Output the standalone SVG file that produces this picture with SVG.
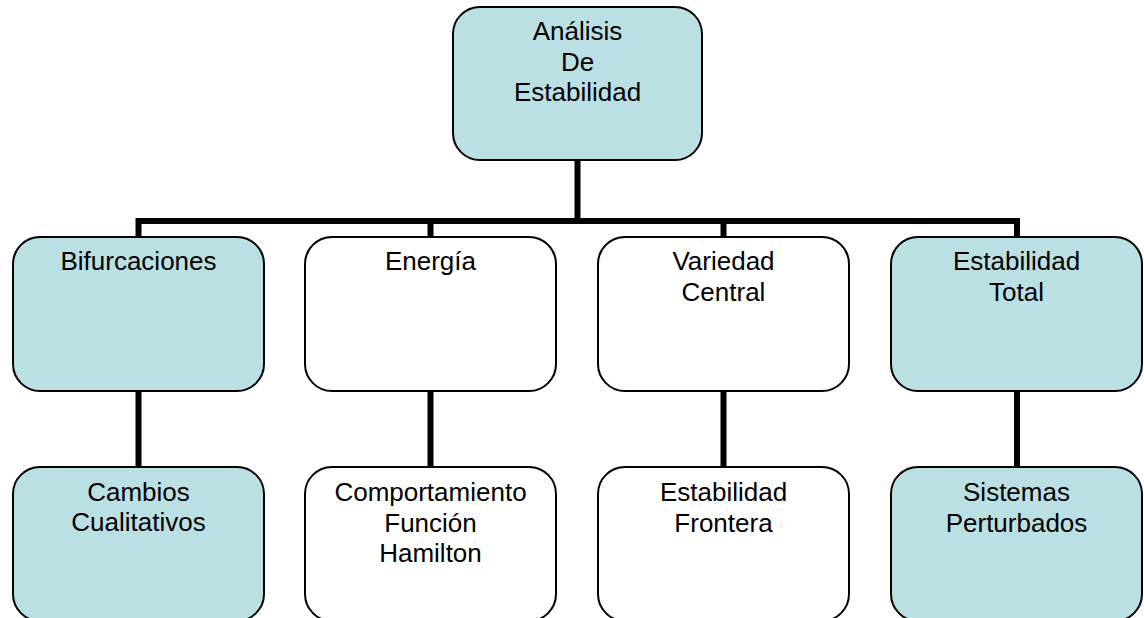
<svg xmlns="http://www.w3.org/2000/svg" width="1144" height="618" viewBox="0 0 1144 618">
<style>
.box{stroke:#000;stroke-width:2}
.blue{fill:#BBE0E3}
.white{fill:#FFFFFF}
.lbl{font-family:"Liberation Sans",Arial,sans-serif;font-size:26px;fill:#000;text-anchor:middle}
.conn{fill:none;stroke:#000;stroke-width:6;stroke-linejoin:miter;stroke-linecap:butt}
</style>
<rect width="1144" height="618" fill="#FFFFFF"/>
<g id="connectors">
<path class="conn" d="M577.5 160 V221"/>
<path class="conn" d="M138.5 237 V221 H1017 V237"/>
<path class="conn" d="M430.5 221 V237"/>
<path class="conn" d="M723.5 221 V237"/>
<path class="conn" d="M138.5 391 V467"/>
<path class="conn" d="M430.5 391 V467"/>
<path class="conn" d="M723.5 391 V467"/>
<path class="conn" d="M1017 391 V467"/>
</g>
<g id="n-root">
<rect class="box blue" x="453" y="7" width="249" height="153" rx="27" ry="27"/>
<text class="lbl" x="577.5" y="40">Análisis</text>
<text class="lbl" x="577.5" y="70.5">De</text>
<text class="lbl" x="577.5" y="101">Estabilidad</text>
</g>
<g id="n-bifurcaciones">
<rect class="box blue" x="13" y="237" width="251" height="154" rx="27" ry="27"/>
<text class="lbl" x="138.5" y="270">Bifurcaciones</text>
</g>
<g id="n-energia">
<rect class="box white" x="305" y="237" width="251" height="154" rx="27" ry="27"/>
<text class="lbl" x="430.5" y="270">Energía</text>
</g>
<g id="n-variedad">
<rect class="box white" x="598" y="237" width="251" height="154" rx="27" ry="27"/>
<text class="lbl" x="723.5" y="270">Variedad</text>
<text class="lbl" x="723.5" y="300.5">Central</text>
</g>
<g id="n-total">
<rect class="box blue" x="891" y="237" width="251" height="154" rx="27" ry="27"/>
<text class="lbl" x="1016.5" y="270">Estabilidad</text>
<text class="lbl" x="1016.5" y="300.5">Total</text>
</g>
<g id="n-cambios">
<rect class="box blue" x="13" y="467" width="251" height="154" rx="27" ry="27"/>
<text class="lbl" x="138.5" y="500.5">Cambios</text>
<text class="lbl" x="138.5" y="531">Cualitativos</text>
</g>
<g id="n-comportamiento">
<rect class="box white" x="305" y="467" width="251" height="154" rx="27" ry="27"/>
<text class="lbl" x="430.5" y="501">Comportamiento</text>
<text class="lbl" x="430.5" y="531.5">Función</text>
<text class="lbl" x="430.5" y="562">Hamilton</text>
</g>
<g id="n-frontera">
<rect class="box white" x="598" y="467" width="251" height="154" rx="27" ry="27"/>
<text class="lbl" x="723.5" y="501">Estabilidad</text>
<text class="lbl" x="723.5" y="531.5">Frontera</text>
</g>
<g id="n-perturbados">
<rect class="box blue" x="891" y="467" width="251" height="154" rx="27" ry="27"/>
<text class="lbl" x="1016.5" y="501">Sistemas</text>
<text class="lbl" x="1016.5" y="531.5">Perturbados</text>
</g>
</svg>
